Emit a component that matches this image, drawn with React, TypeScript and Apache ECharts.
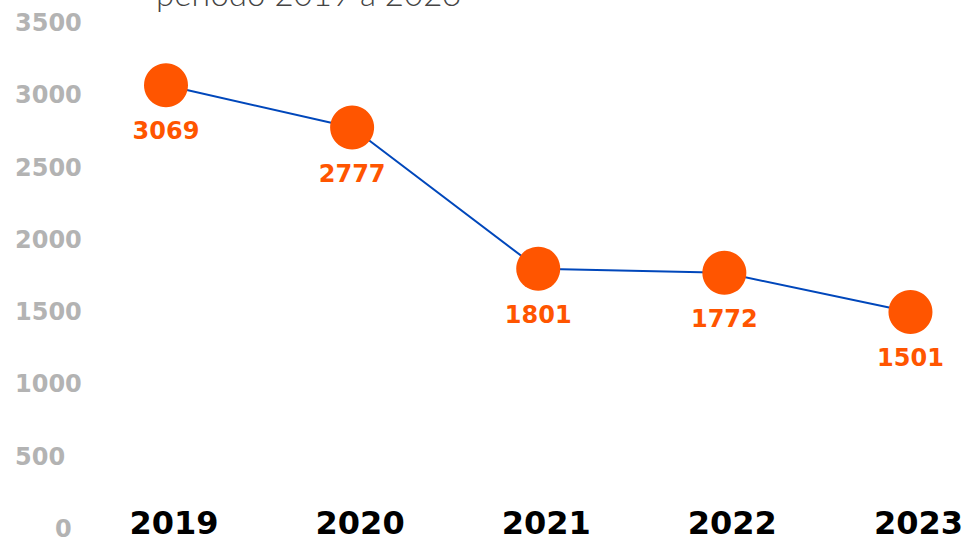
import React, { useEffect, useRef } from "react";
import * as echarts from "echarts";

const years = ["2019", "2020", "2021", "2022", "2023"];
const values = [3069, 2777, 1801, 1772, 1501];
const titleText = "período 2019 a 2023";

export default function App() {
  const ref = useRef<HTMLDivElement>(null);
  useEffect(() => {
    document.body.style.margin = "0";
    if (!ref.current) return;
    const chart = echarts.init(ref.current, null, { renderer: "svg" });
    chart.setOption({
      animation: false,
      backgroundColor: "#ffffff",
      title: {
        text: titleText,
        left: 156,
        top: -24,
        padding: 0,
        textStyle: {
          fontFamily: "Lato",
          fontWeight: 300,
          fontSize: 33,
          color: "#444444",
        },
      },
      grid: { left: 166, right: 54, top: 23, bottom: 11 },
      xAxis: {
        type: "category",
        data: years,
        boundaryGap: false,
        axisLine: { show: false },
        axisTick: { show: false },
        splitLine: { show: false },
        axisLabel: {
          margin: -6,
          verticalAlign: "middle",
          padding: [0, 0, 0, 16],
          fontFamily: "DejaVu Sans",
          fontWeight: "bold",
          fontSize: 32,
          color: "#000000",
        },
      },
      yAxis: {
        type: "value",
        min: 0,
        max: 3500,
        interval: 500,
        axisLine: { show: false },
        axisTick: { show: false },
        splitLine: { show: false },
        axisLabel: {
          align: "left",
          margin: 151,
          formatter: (v: number) => (v === 0 ? "{z|0}" : "{n|" + v + "}"),
          rich: {
            n: {
              fontFamily: "DejaVu Sans",
              fontWeight: "bold",
              fontSize: 24,
              color: "#b3b3b3",
            },
            z: {
              fontFamily: "DejaVu Sans",
              fontWeight: "bold",
              fontSize: 24,
              color: "#b3b3b3",
              padding: [0, 0, 0, 40],
            },
          },
        },
      },
      series: [
        {
          type: "line",
          data: values,
          symbol: "circle",
          symbolSize: 44,
          lineStyle: { color: "#0047bb", width: 2 },
          itemStyle: { color: "#ff5500" },
          label: {
            show: true,
            position: "bottom",
            distance: 12,
            fontFamily: "DejaVu Sans",
            fontWeight: "bold",
            fontSize: 24,
            color: "#ff5500",
          },
        },
      ],
    });
    return () => chart.dispose();
  }, []);
  return <div ref={ref} style={{ width: 966, height: 541 }} />;
}
